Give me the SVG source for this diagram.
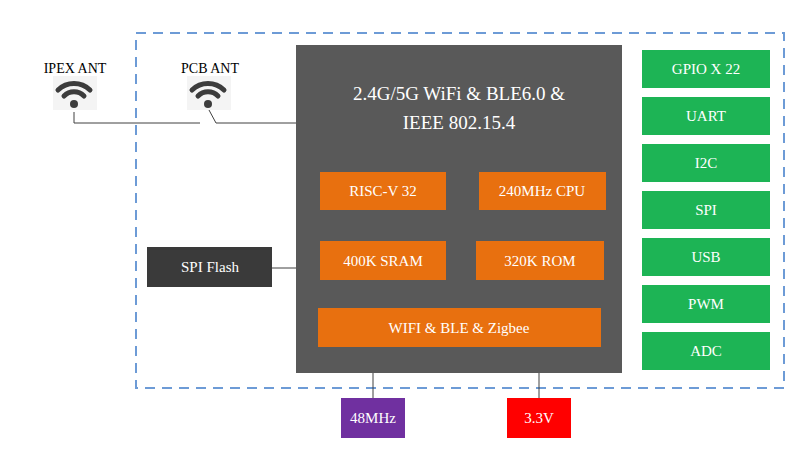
<svg xmlns="http://www.w3.org/2000/svg" width="800" height="470" viewBox="0 0 800 470">
<style>
text{font-family:"Liberation Serif","Noto Sans CJK SC",serif;fill:#fff;text-anchor:middle;dominant-baseline:central}
.o{fill:#e8700f}.g{fill:#1db455}.w{fill:none;stroke:#404040;stroke-width:1}
.lbl{fill:#000;font-size:14px}
</style>
<rect width="800" height="470" fill="#fff"/>
<rect x="136" y="33" width="648" height="355" fill="none" stroke="#6d9bd6" stroke-width="2" stroke-dasharray="10,7"/>
<g id="connectors">
<polyline class="w" points="74,112 74,123 200,123"/>
<polyline class="w" points="209,110 216,123 296,123"/>
<line class="w" x1="272" y1="268" x2="300" y2="268"/>
<line class="w" x1="373" y1="373" x2="373" y2="398"/>
<line class="w" x1="539" y1="373" x2="539" y2="398"/>
</g>
<g id="chip"><rect x="296" y="45" width="326" height="328" fill="#595959"/>
<text x="459" y="93" font-size="19">2.4G/5G WiFi &amp; BLE6.0 &amp;</text>
<text x="459" y="122" font-size="19">IEEE 802.15.4</text></g>
<g id="riscv"><rect class="o" x="320" y="172" width="126" height="38"/><text x="383" y="191" font-size="15">RISC-V 32</text></g>
<g id="cpu"><rect class="o" x="479" y="172" width="127" height="38"/><text x="542" y="191" font-size="15">240MHz CPU</text></g>
<g id="sram"><rect class="o" x="320" y="241" width="126" height="39"/><text x="383" y="261" font-size="15">400K SRAM</text></g>
<g id="rom"><rect class="o" x="476" y="241" width="128" height="39"/><text x="540" y="261" font-size="15">320K ROM</text></g>
<g id="wifi"><rect class="o" x="318" y="308" width="283" height="39"/><text x="459" y="328" font-size="15">WIFI &amp; BLE &amp; Zigbee</text></g>
<g id="flash"><rect x="147" y="247" width="125" height="40" fill="#3a3a3a"/><text x="210" y="267" font-size="15">SPI Flash</text></g>
<g id="gpio"><rect class="g" x="642" y="50" width="128" height="38"/><text x="706" y="69" font-size="15">GPIO X 22</text></g>
<g id="uart"><rect class="g" x="642" y="97" width="128" height="38"/><text x="706" y="116" font-size="15">UART</text></g>
<g id="i2c"><rect class="g" x="642" y="144" width="128" height="38"/><text x="706" y="163" font-size="15">I2C</text></g>
<g id="spi"><rect class="g" x="642" y="191" width="128" height="38"/><text x="706" y="210" font-size="15">SPI</text></g>
<g id="usb"><rect class="g" x="642" y="238" width="128" height="38"/><text x="706" y="257" font-size="15">USB</text></g>
<g id="pwm"><rect class="g" x="642" y="285" width="128" height="38"/><text x="706" y="304" font-size="15">PWM</text></g>
<g id="adc"><rect class="g" x="642" y="332" width="128" height="38"/><text x="706" y="351" font-size="15">ADC</text></g>
<g id="mhz"><rect x="341" y="398" width="64" height="40" fill="#7030a0"/><text x="373" y="418" font-size="15">48MHz</text></g>
<g id="v33"><rect x="507" y="398" width="64" height="40" fill="#ff0000"/><text x="539" y="418" font-size="15">3.3V</text></g>
<g id="ipex"><text class="lbl" x="75" y="68">IPEX ANT</text>
<rect x="53" y="76" width="44" height="34" fill="#f4f4f4"/>
<g fill="none" stroke="#3c3c3c" stroke-width="5" stroke-linecap="round"><path d="M58,90 A23,23 0 0 1 90,90"/><path d="M64,96 A14,14 0 0 1 84,96"/></g>
<circle cx="74" cy="104" r="4" fill="#3c3c3c"/></g>
<g id="pcb"><text class="lbl" x="210" y="68">PCB ANT</text>
<rect x="187" y="76" width="44" height="34" fill="#f4f4f4"/>
<g fill="none" stroke="#3c3c3c" stroke-width="5" stroke-linecap="round"><path d="M192,90 A23,23 0 0 1 224,90"/><path d="M198,96 A14,14 0 0 1 218,96"/></g>
<circle cx="208" cy="104" r="4" fill="#3c3c3c"/></g>
</svg>
